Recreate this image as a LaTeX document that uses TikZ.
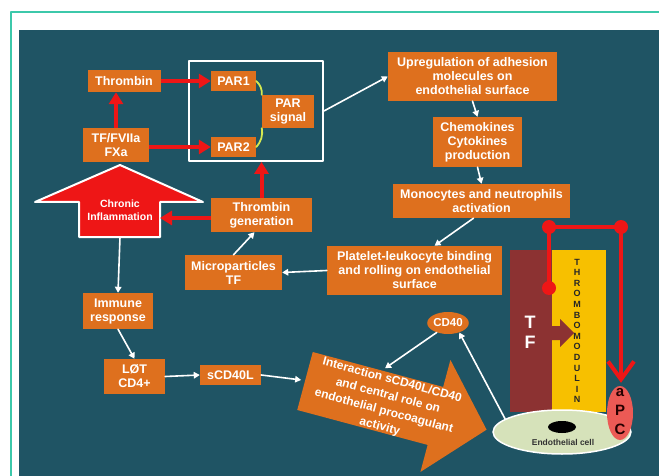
\documentclass[tikz,border=0pt]{standalone}
\usepackage{fontspec}
\setmainfont{Liberation Sans}
\usetikzlibrary{arrows.meta,shapes.geometric}
\definecolor{panel}{RGB}{31,84,100}
\definecolor{boxorange}{RGB}{222,112,30}
\definecolor{slideline}{RGB}{60,200,170}
\definecolor{alarmred}{RGB}{238,22,22}
\definecolor{tfred}{RGB}{140,50,50}
\definecolor{tmyellow}{RGB}{247,192,0}
\definecolor{cellgreen}{RGB}{214,226,186}
\definecolor{apcred}{RGB}{236,90,85}
\definecolor{parlime}{RGB}{212,232,80}
\begin{document}
\begin{tikzpicture}[line cap=round,line join=round,x=1pt,y=-1pt,
    box/.style={fill=boxorange,text=white,font=\bfseries\fontsize{12.5}{14}\selectfont,align=center,inner sep=0pt},
    wline/.style={white,line width=1.6pt,-{Triangle[length=6pt,width=6.5pt]}},
    rline/.style={alarmred,line width=4pt,line cap=butt,-{Triangle[length=12pt,width=14pt]}},
    parlink/.style={parlime,line width=1.8pt},
    tmletter/.style={font=\bfseries\fontsize{9}{10}\selectfont,text=black!85,inner sep=0pt}]
  \useasboundingbox (0,0) rectangle (659,476);
  \fill[white] (0,0) rectangle (659,476);
  \draw[slideline,line width=1.2pt] (11,476) -- (11,12) -- (659,12);
  \fill[panel] (19,30) rectangle (659,476);

  \node[box,minimum width=73pt,minimum height=22pt] (thrombin) at (124,81) {Thrombin};
  \node[box,minimum width=66pt,minimum height=34pt] (tffx) at (116,145) {TF/FVIIa\\FXa};
  \node[draw=white,line width=1.8pt,minimum width=134pt,minimum height=100pt,inner sep=0pt] (parbox) at (256,111) {};
  \node[box,minimum width=45pt,minimum height=20pt] (parone) at (233.5,81) {PAR1};
  \node[box,minimum width=45pt,minimum height=20pt] (partwo) at (233.5,147) {PAR2};
  \node[box,minimum width=52pt,minimum height=33pt] (parsig) at (288,111.5) {PAR\\signal};
  \node[box,minimum width=169pt,minimum height=49pt] (upreg) at (472.5,76.5) {Upregulation of adhesion\\molecules on\\endothelial surface};
  \node[box,minimum width=89pt,minimum height=50pt] (chemo) at (477.5,142) {Chemokines\\Cytokines\\production};
  \node[box,minimum width=177pt,minimum height=34pt] (mono) at (481.5,201) {Monocytes and neutrophils\\activation};
  \node[box,minimum width=101pt,minimum height=34pt] (thrgen) at (261.5,215) {Thrombin\\generation};
  \node[box,minimum width=97pt,minimum height=35pt] (micro) at (233.5,272.5) {Microparticles\\TF};
  \node[box,minimum width=175pt,minimum height=49pt] (platelet) at (414.5,270.5) {Platelet-leukocyte binding\\and rolling on endothelial\\surface};
  \node[box,minimum width=70pt,minimum height=36pt] (immune) at (118,311) {Immune\\response};
  \node[box,minimum width=61pt,minimum height=35pt] (lot) at (134.5,376.5) {LØT\\CD4+};
  \node[box,minimum width=61pt,minimum height=20pt] (scd) at (230.5,375) {sCD40L};
  \node[box,ellipse,font=\bfseries\fontsize{11.5}{13}\selectfont,minimum width=40pt,minimum height=22pt] (cdforty) at (448,323) {CD40};

  \draw[white,line width=2pt,fill=alarmred] (79,237) -- (79,202) -- (35,202) -- (120,165) -- (203,202) -- (160,202) -- (160,237) -- cycle;
  \node[text=white,font=\bfseries\fontsize{10.5}{13}\selectfont,align=center] (chronic) at (120,210) {Chronic\\Inflammation};
  \coordinate (chronicbase) at (120,237);
  \coordinate (chronicside) at (160,218);

  \begin{scope}[shift={(305,381)},rotate=-15]
    \fill[boxorange] (0,-30) -- (135,-30) -- (135,-58) -- (188,0) -- (135,58) -- (135,30) -- (0,30) -- cycle;
    \node[transform shape,text=white,font=\bfseries\fontsize{12}{16}\selectfont,align=center] (interaction) at (84,1) {Interaction sCD40L/CD40\\and central role on\\endothelial procoagulant\\activity};
    \coordinate (inttail) at (-4,0);
    \coordinate (inttop) at (74,-33);
  \end{scope}

  \node[fill=tmyellow,minimum width=54pt,minimum height=162pt,inner sep=0pt] (tmbar) at (579,331) {};
  \node[fill=tfred,minimum width=42pt,minimum height=162pt,inner sep=0pt] (tfbar) at (531,331) {};
  \fill[tfred] (552,326) -- (560,326) -- (560,319) -- (574,333) -- (560,347) -- (560,340) -- (552,340) -- cycle;
  \node[text=white,font=\bfseries\fontsize{18}{20}\selectfont,align=center] (tfletters) at (530,332) {T\\F};
  \foreach \l [count=\i] in {T,H,R,O,M,B,O,M,O,D,U,L,I,N}
    \node[tmletter] (tm\i) at (577,{262+10.6*(\i-1)}) {\l};
  \node[ellipse,fill=cellgreen,draw=white,line width=1.5pt,minimum width=138pt,minimum height=44pt,inner sep=0pt] (endo) at (562,432) {};
  \node[ellipse,fill=black,minimum width=28pt,minimum height=12pt,inner sep=0pt] (nucleus) at (562,427) {};
  \node[font=\bfseries\fontsize{8.5}{10}\selectfont,text=black!80] (endolabel) at (563,442) {Endothelial cell};
  \node[ellipse,fill=apcred,minimum width=26pt,minimum height=54pt,inner sep=0pt] (apc) at (620,413) {};
  \node[text=black!85!red,font=\bfseries\fontsize{15}{19}\selectfont,align=center] (apctext) at (620,412) {a\\P\\C};

  \coordinate (tfdot) at (549,288);
  \coordinate (loopleft) at (549,227);
  \coordinate (loopright) at (621,227);
  \draw[alarmred,line width=4pt] (tfdot) -- (loopleft) -- (loopright);
  \draw[alarmred,line width=4pt,-{Straight Barb[length=18pt,width=26pt]},shorten >=3pt] (loopright) -- (loopright |- apc.north);
  \foreach \p in {tfdot,loopleft,loopright}
    \fill[alarmred] (\p) circle (7pt);

  \draw[rline] (tffx.north) -- (tffx.north |- thrombin.south);
  \draw[rline] (thrombin.east) -- (parone.west);
  \draw[rline] (tffx.east |- partwo) -- (partwo.west);
  \draw[rline] (thrgen.north) -- (thrgen.north |- parbox.south);
  \draw[rline] (thrgen.west |- chronicside) -- (chronicside);
  \draw[parlink] (parone.east) to[bend left=25] (parsig.north west);
  \draw[parlink] (parsig.south west) to[bend left=25] (partwo.east);

  \draw[wline] (parbox.east) -- (upreg.west);
  \draw[wline] (upreg.south) -- (chemo.north);
  \draw[wline] (chemo.south) -- (mono.north);
  \draw[wline] ([xshift=-8pt]mono.south) -- ([xshift=20pt]platelet.north);
  \draw[wline] (platelet.west) -- (micro.east);
  \draw[wline] (micro.north) -- ([xshift=-7pt]thrgen.south);
  \draw[wline] (chronicbase) -- (immune.north);
  \draw[wline] (immune.south) -- (lot.north);
  \draw[wline] (lot.east) -- (scd.west);
  \draw[wline] (scd.east) -- (inttail);
  \draw[wline] (cdforty.-140) -- (inttop);
  \draw[wline] (endo.167) -- (cdforty.-40);
\end{tikzpicture}
\end{document}
